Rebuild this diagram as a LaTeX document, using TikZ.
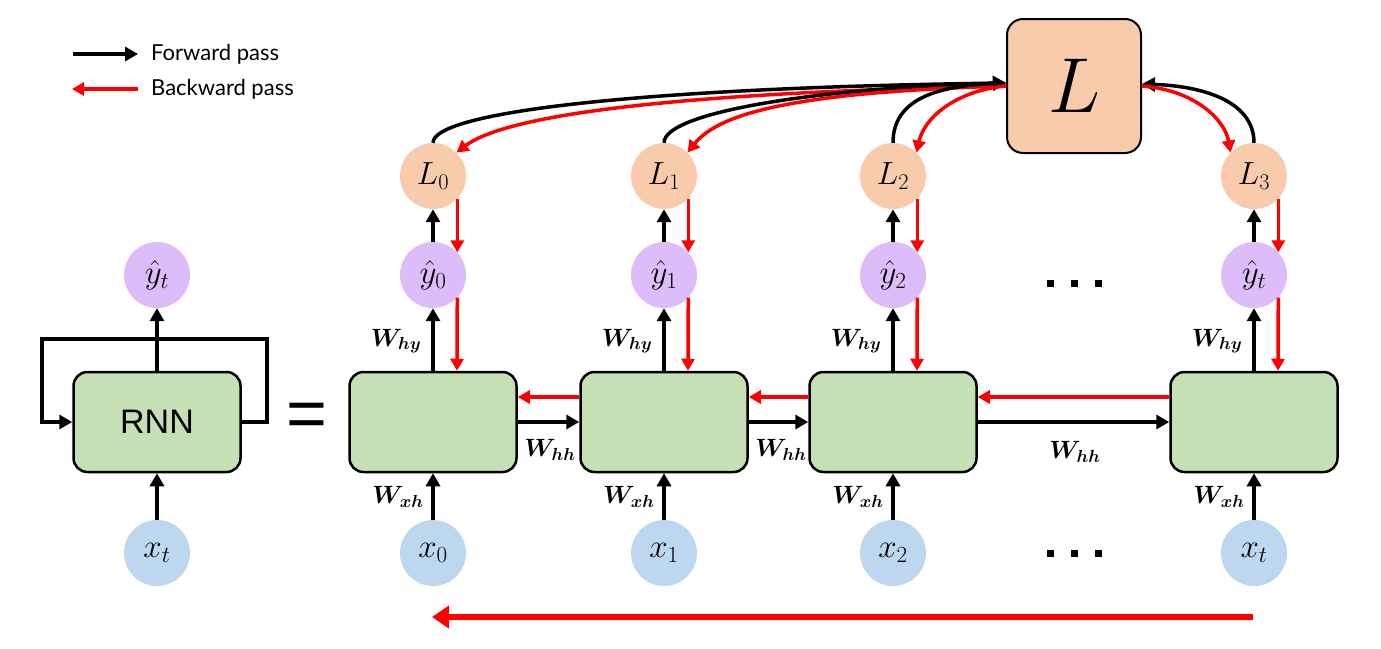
\RequirePackage{fix-cm}
\documentclass[tikz,border=0pt]{standalone}
\usepackage{amsmath}
\usepackage{bm}
\usepackage{fontspec}
\setmainfont{Lato}
\newfontfamily\arialf{Liberation Sans}
\usetikzlibrary{arrows.meta,calc}
\definecolor{boxgreen}{HTML}{C5E0B4}
\definecolor{lossor}{HTML}{F8CBAD}
\definecolor{ypurp}{HTML}{DCBDF9}
\definecolor{xblue}{HTML}{BDD7EE}
\definecolor{bred}{HTML}{FF0000}
\tikzset{
  cell/.style={draw=black,line width=2.5pt,fill=boxgreen,rounded corners=14pt,minimum width=167pt,minimum height=100pt,inner sep=0pt},
  lossc/.style={circle,fill=lossor,minimum size=66pt,inner sep=0pt,font=\fontsize{32}{34}\selectfont},
  yc/.style={circle,fill=ypurp,minimum size=66pt,inner sep=0pt,font=\fontsize{33}{35}\selectfont},
  xc/.style={circle,fill=xblue,minimum size=66pt,inner sep=0pt,font=\fontsize{33}{35}\selectfont},
  fwd/.style={line width=4pt,draw=black,-{Triangle[length=13pt,width=14pt]}},
  bwd/.style={line width=3.5pt,draw=bred,-{Triangle[length=12pt,width=13pt]}},
  wlab/.style={inner sep=0pt,font=\fontsize{25}{27}\selectfont},
  legtxt/.style={inner sep=0pt,anchor=west,font=\fontsize{22}{24}\selectfont},
  dotsq/.style={fill=black}
}
\begin{document}
\begin{tikzpicture}[x=1pt,y=-1pt]
\useasboundingbox (0,0) rectangle (1381,648);
% legend
\coordinate (lf1) at (73,54); \coordinate (lf2) at (138,54);
\coordinate (lb1) at (138,89); \coordinate (lb2) at (72,89);
\draw[fwd] (lf1) -- (lf2);
\draw[bwd] (lb1) -- (lb2);
\node[legtxt] (tf) at (151,54) {Forward pass};
\node[legtxt] (tb) at (151,89) {Backward pass};
% folded RNN
\node[cell,font=\arialf\fontsize{34}{36}\selectfont] (rnn) at (157,422) {RNN};
\node[yc] (yt) at (157,275) {$\hat{y}_t$};
\node[xc] (xt) at (157,553) {$x_t$};
\draw[fwd] (rnn.north) -- (yt.south);
\draw[fwd] (xt.north) -- (rnn.south);
\coordinate (lp1) at (267,422); \coordinate (lp2) at (267,339);
\coordinate (lp3) at (42,339); \coordinate (lp4) at (42,422);
\draw[fwd] (rnn.east) -- (lp1) -- (lp2) -- (lp3) -- (lp4) -- (rnn.west);
\node[inner sep=0pt,font=\arialf\fontsize{70}{72}\selectfont] (eq) at (307,420) {=};
% unrolled
\foreach \i/\c/\ys/\xs in {0/433/0/0,1/664/1/1,2/893/2/2,3/1254/t/t}{
  \node[cell] (b\i) at (\c,422) {};
  \node[lossc] (L\i) at (\c,176) {$L_{\i}$};
  \node[yc] (y\i) at (\c,275) {$\hat{y}_{\ys}$};
  \node[xc] (x\i) at (\c,553) {$x_{\xs}$};
  \draw[fwd] (b\i.north) -- (y\i.south);
  \draw[fwd] (y\i.north) -- (L\i.south);
  \draw[fwd] (x\i.north) -- (b\i.south);
  \draw[bwd] (L\i.-43) -- (y\i.43);
  \draw[bwd] (y\i.-43) -- ($(b\i.north)+(24,0)$);
  \node[wlab] (why\i) at (\c-37,341) {$\bm{W}_{\bm{hy}}$};
  \node[wlab] (wxh\i) at (\c-35,497) {$\bm{W}_{\bm{xh}}$};
}
\foreach \a/\b in {0/1,1/2,2/3}{
  \draw[fwd] (b\a.east) -- (b\b.west);
  \draw[bwd] ($(b\b.west)+(0,-25)$) -- ($(b\a.east)+(0,-25)$);
}
\node[wlab] (whh0) at (550,450) {$\bm{W}_{\bm{hh}}$};
\node[wlab] (whh1) at (781,450) {$\bm{W}_{\bm{hh}}$};
\node[wlab] (whh2) at (1075,452) {$\bm{W}_{\bm{hh}}$};
% total loss
\node[draw=black,line width=2pt,fill=lossor,rounded corners=16pt,minimum size=134pt,inner sep=0pt,font=\fontsize{78}{80}\selectfont] (L) at (1074,86) {$L$};
\coordinate (Lin) at ($(L.west)+(0,-3)$);
\coordinate (Lin3) at ($(L.east)+(0,-2)$);
\draw[fwd,line width=3.5pt] (L0.north) .. controls (433,112) and (640,88) .. (Lin);
\draw[bwd] (L.west) .. controls (700,92) and (510,112) .. (L0.45);
\draw[fwd,line width=3.5pt] (L1.north) .. controls (664,112) and (820,88) .. (Lin);
\draw[bwd] (L.west) .. controls (800,92) and (720,112) .. (L1.45);
\draw[fwd,line width=3.5pt] (L2.north) .. controls (893,100) and (935,86) .. (Lin);
\draw[bwd] (L.west) .. controls (960,90) and (925,115) .. (L2.45);
\draw[fwd,line width=3.5pt] (L3.north) .. controls (1254,100) and (1200,86) .. (Lin3);
\draw[bwd] (L.east) .. controls (1195,90) and (1225,120) .. (L3.135);
% dots
\foreach \dx in {1050,1074,1098}{
  \fill[dotsq] (\dx-3.5,279.5) rectangle (\dx+3.5,286.5);
  \fill[dotsq] (\dx-3.5,549.5) rectangle (\dx+3.5,556.5);
}
% bottom backward arrow
\coordinate (ba1) at (1253,617); \coordinate (ba2) at (432,617);
\draw[draw=bred,line width=6pt,-{Triangle[length=17pt,width=22pt]}] (ba1) -- (ba2);
\end{tikzpicture}
\end{document}
